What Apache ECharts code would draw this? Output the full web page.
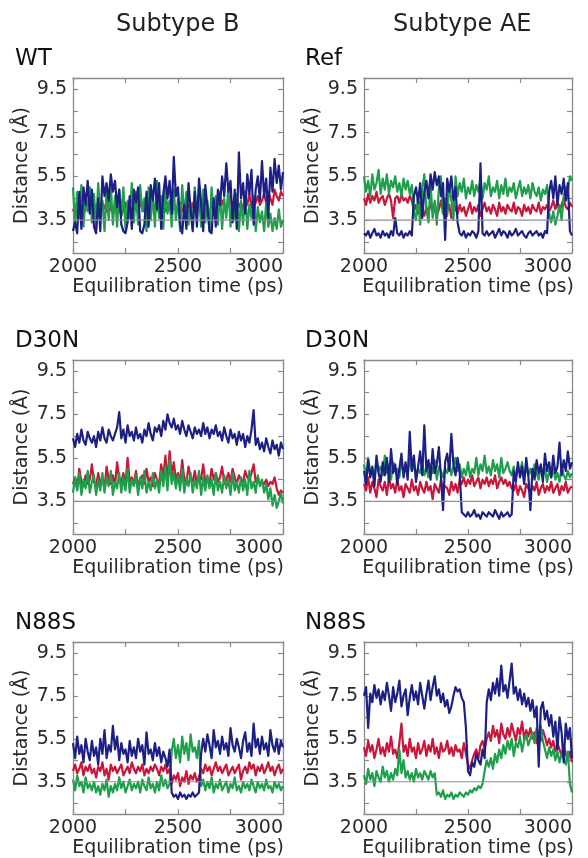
<!DOCTYPE html>
<html><head><meta charset="utf-8">
<script src="https://cdn.jsdelivr.net/npm/echarts@6/dist/echarts.min.js"></script>
<style>html,body{margin:0;padding:0;background:#fff}#c{width:588px;height:858px}</style>
</head><body><div id="c"></div>
<script>
// ---- data ----
const TIME_START = 2000, TIME_STEP = 10, TIME_END = 3000;
const xTickLabels = [2000, 2500, 3000];
const yTickLabels = [3.5, 5.5, 7.5, 9.5];
const yTickMarks = [2.5, 3.5, 4.5, 5.5, 6.5, 7.5, 8.5, 9.5];
const REF_LEVEL = 3.5;
const columnTitles = ['Subtype B', 'Subtype AE'];
const panelTitles = ['WT', 'Ref', 'D30N', 'D30N', 'N88S', 'N88S'];
const xAxisName = 'Equilibration time (ps)';
const yAxisName = 'Distance (Å)';

// Panel 1: WT (Subtype B)
const wtBlue = [3.0,3.4,2.9,4.8,3.1, 5.0,4.2,5.3,3.8,4.9, 3.2,2.9,4.5,3.0,5.5, 4.6,5.2,4.4,5.6,4.8,
 5.3,4.1,4.9,3.3,3.0, 2.9,3.4,4.6,3.1,4.9, 4.3,5.0,3.0,2.9,3.3, 4.8,3.2,5.1,4.4,5.4,
 4.0,5.2,3.1,4.7,5.5, 4.5,5.3,3.8,6.4,4.6, 5.0,3.3,2.9,4.2,3.1, 5.2,4.0,3.0,4.8,3.2,
 5.4,4.3,3.0,5.1,4.1, 3.0,2.9,4.5,3.2,4.9, 4.2,5.5,4.6,6.1,4.8, 5.3,3.4,4.9,3.1,6.6,
 4.5,5.2,3.8,5.6,4.7, 5.8,3.3,4.9,5.5,4.4, 6.2,4.6,5.4,3.6,5.9, 4.8,6.3,5.2,6.0,4.9, 5.7];
const wtRed = [3.9,4.2,3.7,4.1,4.4,3.8,4.0,4.3,3.9,4.1, 3.8,4.2,4.0,3.7,4.3,4.1,3.9,4.4,4.0,3.8,
 4.2,3.9,4.1,3.7,4.0,4.3,3.8,4.1,3.9,4.2, 4.0,3.8,4.3,4.1,3.9,4.2,3.7,4.0,4.4,3.9,
 4.1,3.8,4.2,4.0,3.9,4.3,4.1,3.8,4.2,4.0, 3.9,4.3,4.0,3.8,4.4,4.1,3.9,4.2,4.5,4.0,
 4.3,3.9,4.1,4.4,4.0,3.8,4.2,4.1,3.9,4.3, 4.0,4.4,4.1,3.9,4.3,4.6,4.0,4.2,4.5,4.1,
 4.3,4.0,4.4,4.2,4.7,4.1,4.5,4.3,4.6,4.2, 4.4,4.7,4.3,4.8,4.5,4.2,4.9,4.6,4.4,4.8, 4.6];
const wtGreen = [5.0,3.3,4.8,3.6,5.1,3.2,4.6,3.9,5.0,3.4, 4.7,3.1,5.2,3.8,4.4,3.0,4.9,3.5,5.1,3.3,
 4.6,3.2,4.9,3.7,5.0,3.1,4.4,3.6,5.2,3.4, 4.8,3.3,5.1,3.9,4.5,3.0,5.0,3.5,4.7,3.2,
 5.3,3.6,4.6,3.1,5.0,3.8,4.4,3.2,4.9,3.5, 4.5,3.0,5.1,3.7,4.8,3.3,4.3,3.1,5.0,3.6,
 4.7,3.2,4.9,3.4,4.4,3.0,5.0,3.8,4.6,3.3, 4.8,3.1,4.5,3.6,5.1,3.2,4.3,3.5,4.7,3.0,
 4.4,3.3,4.8,3.1,4.2,3.6,4.6,3.0,4.1,3.4, 3.9,3.0,4.3,3.2,3.8,3.0,3.6,3.1,4.0,3.2, 3.5];

// Panel 2: Ref (Subtype AE)
const refBlue = [2.9,2.8,3.0,2.7,2.9,3.1,2.8,2.9,2.7,3.0, 2.8,2.9,2.7,3.0,2.8,3.6,2.9,2.8,3.0,2.7,
 2.9,2.8,3.0,2.8,4.6,5.0,4.3,5.2,3.6,4.8, 5.3,4.5,5.6,4.9,5.7,5.1,5.5,4.6,5.2,2.6,
 5.4,4.8,5.5,4.4,5.0,3.4,2.9,2.8,3.0,2.7, 2.9,2.8,3.0,2.9,2.7,3.0,6.1,2.9,2.8,3.0,
 2.8,2.9,3.0,2.7,2.9,3.1,2.8,3.0,2.9,2.7, 3.0,2.8,2.9,3.1,2.8,2.9,3.0,2.8,2.7,2.9,
 3.0,2.8,2.9,3.0,2.8,2.9,2.7,3.0,2.9,4.8, 5.3,4.5,5.5,4.2,5.1,4.7,5.4,4.4,5.2,3.0, 2.8];
const refRed = [4.5,4.2,4.7,4.3,4.6,4.4,4.8,4.3,4.5,4.6, 4.2,4.5,4.7,4.4,3.6,4.5,4.6,4.3,4.7,4.4,
 4.5,4.3,4.6,4.4,3.9,4.2,3.8,4.3,4.0,3.7, 4.1,3.8,4.3,3.9,4.2,3.7,4.0,4.4,3.8,4.1,
 3.9,4.2,3.6,4.3,4.0,3.8,4.2,3.9,4.1,3.7, 4.0,4.3,3.8,4.1,3.9,4.2,3.7,4.0,4.3,3.9,
 4.1,3.8,4.2,4.0,3.7,4.3,3.9,4.1,3.8,4.2, 4.0,3.9,4.3,3.8,4.1,4.0,3.7,4.2,3.9,4.1,
 3.8,4.2,4.0,3.9,4.3,3.8,4.1,4.0,4.2,3.9, 4.1,4.4,4.0,4.3,3.9,4.2,4.5,4.1,4.0,4.3, 4.1];
const refGreen = [5.5,4.8,5.3,4.6,5.6,4.9,5.2,5.8,4.7,5.4, 4.9,5.6,4.7,5.3,5.0,5.5,4.8,5.2,4.6,5.4,
 4.9,5.3,4.7,5.1,3.9,3.5,4.6,3.3,4.9,5.6, 4.0,3.4,5.2,3.6,4.4,3.3,5.0,5.5,3.8,4.5,
 3.7,5.1,4.4,3.5,5.5,4.6,5.2,4.8,5.4,4.5, 5.0,4.7,5.3,4.6,5.1,4.8,5.4,4.5,5.2,4.9,
 5.5,4.6,5.0,4.8,5.3,4.5,5.1,4.7,5.4,4.6, 5.0,4.8,5.2,4.5,4.9,5.3,4.6,5.0,4.7,5.1,
 4.5,5.2,4.8,4.6,5.0,4.4,4.9,4.7,5.1,3.8, 3.4,3.9,3.3,3.7,4.2,3.5,4.6,5.0,4.8,5.5, 5.3];

// Panel 3: D30N (Subtype B)
const d30bBlue = [6.4,6.0,6.6,6.2,6.8,6.3,6.1,6.7,6.4,6.2, 6.5,6.0,6.7,6.3,6.9,6.4,6.2,6.8,6.5,6.3,
 6.6,6.9,7.6,6.4,6.8,6.2,7.0,6.5,6.7,6.3, 6.9,6.4,6.6,6.2,6.8,6.5,7.1,6.6,6.3,6.9,
 6.7,7.0,6.5,7.2,6.8,7.5,7.1,6.9,7.3,6.8, 7.0,6.6,7.2,6.8,6.5,7.0,6.7,6.4,6.9,6.6,
 6.8,6.5,7.1,6.6,6.9,6.4,6.8,6.6,7.0,6.5, 6.7,6.3,6.9,6.5,6.2,6.8,6.4,6.6,6.1,6.7,
 6.3,6.6,6.0,6.5,6.2,6.8,7.7,6.1,6.4,5.9, 6.2,5.8,6.4,6.0,5.7,6.3,5.9,6.1,5.6,6.2, 5.9];
const d30bRed = [4.3,4.6,4.1,5.0,4.4,4.2,4.7,4.3,4.5,5.2, 4.4,4.2,4.8,4.3,4.6,4.1,5.1,4.5,4.3,4.7,
 4.2,5.3,4.5,4.4,4.8,4.2,5.5,4.4,4.6,4.3, 4.9,4.2,4.5,4.7,4.3,5.0,4.4,4.6,4.2,4.8,
 4.5,4.3,5.2,4.6,5.6,4.4,5.8,4.7,5.3,4.5, 4.8,4.4,5.4,4.5,4.3,5.1,4.6,4.4,4.9,4.3,
 4.7,4.5,5.2,4.4,4.6,4.3,5.0,4.5,4.8,4.4, 4.6,5.1,4.3,4.5,4.8,4.4,5.0,4.6,4.3,4.7,
 4.5,4.4,4.9,4.6,4.5,4.8,5.2,4.4,4.6,4.3, 4.4,4.3,4.5,4.2,4.4,4.3,4.6,4.1,3.8,4.0, 3.9];
const d30bGreen = [3.9,4.6,4.0,4.8,3.8,4.5,4.1,4.9,3.9,4.4, 4.7,3.8,4.5,4.0,4.8,3.9,4.6,4.2,4.9,3.8,
 4.4,4.1,4.8,3.9,4.6,4.0,5.0,3.9,4.5,4.2, 4.7,3.8,4.6,4.1,4.9,3.9,4.4,4.0,4.8,4.1,
 4.5,3.9,4.9,4.2,5.1,4.0,5.4,4.3,4.8,4.1, 4.7,4.0,5.0,3.9,4.6,4.2,4.8,3.9,4.5,4.1,
 4.9,3.8,4.6,4.0,4.7,4.1,4.5,3.8,4.8,4.0, 4.4,3.9,4.7,4.1,4.5,3.8,4.8,4.0,4.4,3.9,
 4.6,4.0,4.5,3.8,4.9,4.1,4.4,3.9,4.7,4.2, 4.5,3.9,4.3,3.6,4.1,3.3,3.8,3.2,3.5,3.9, 3.4];

// Panel 4: D30N (Subtype AE)
const d30aeBlue = [4.9,4.3,5.4,4.6,5.1,4.2,5.6,4.8,4.4,5.3, 4.7,5.5,4.4,5.9,4.8,5.2,4.3,5.0,5.7,4.6,
 5.3,4.5,6.7,4.9,5.6,4.4,5.1,5.8,4.7,7.0, 4.9,5.4,4.5,5.9,4.8,5.2,6.0,4.6,3.1,5.3,
 5.7,4.9,6.6,5.2,4.7,5.5,4.8,3.0,2.9,2.8, 3.0,2.8,2.9,3.1,2.8,2.9,2.7,3.0,2.9,2.8,
 3.0,2.9,2.8,3.1,2.9,2.7,3.0,2.8,2.9,3.0, 2.8,2.9,4.9,4.4,5.3,4.6,5.1,4.3,5.5,4.7,
 3.1,5.0,4.5,5.4,4.8,5.2,4.4,5.7,4.9,5.3, 4.6,5.6,4.8,5.1,6.2,4.7,5.4,4.9,5.8,5.0, 5.3];
const d30aeRed = [4.3,4.0,4.6,3.9,4.4,4.1,3.7,4.5,4.2,4.0, 4.4,3.8,4.6,4.1,4.3,3.9,4.5,4.0,4.2,3.7,
 4.3,4.1,3.9,4.5,4.0,4.2,3.8,4.4,4.1,3.9, 4.4,4.0,4.2,3.6,4.3,4.1,3.9,4.5,4.0,4.2,
 4.1,3.8,4.4,4.0,4.3,3.9,4.5,4.3,4.6,4.2, 4.5,4.3,4.7,4.2,4.4,4.6,4.1,4.5,4.3,4.6,
 4.2,4.5,4.3,4.7,4.1,4.4,4.6,4.3,4.5,4.2, 4.4,4.1,4.0,4.3,3.8,4.2,4.0,3.7,4.3,4.1,
 3.9,4.2,4.0,4.4,3.8,4.1,4.3,3.9,4.2,4.0, 4.4,3.9,4.1,4.3,3.8,4.2,4.0,4.4,3.9,4.1, 4.2];
const d30aeGreen = [5.2,4.6,5.5,4.8,5.0,4.5,5.4,4.9,5.1,4.7, 5.6,4.8,5.2,4.5,5.3,4.9,5.0,4.6,5.4,4.8,
 5.1,4.7,5.5,4.9,5.2,4.6,5.0,4.8,5.3,4.7, 5.0,4.6,5.2,4.8,5.4,4.5,5.1,4.9,4.6,5.0,
 4.8,5.3,4.7,5.1,5.5,4.9,5.2,4.6,5.0,4.7, 5.3,4.6,5.0,4.8,5.5,4.7,5.2,4.9,5.6,4.8,
 5.1,4.7,5.4,4.9,5.2,4.6,5.5,4.8,5.0,5.3, 4.9,4.7,5.1,4.6,5.0,4.8,5.3,4.5,5.1,4.7,
 5.0,4.6,5.2,4.8,4.5,5.1,4.7,5.0,4.4,4.9, 4.6,5.0,4.5,4.8,4.4,5.1,4.7,4.5,4.9,4.6, 4.8];

// Panel 5: N88S (Subtype B)
const n88bBlue = [5.3,4.6,5.6,4.8,5.2,4.4,5.5,4.9,4.5,5.4, 4.7,5.1,4.3,5.5,4.8,5.9,4.6,5.2,4.9,6.1,
 5.0,5.6,4.5,5.3,4.8,5.0,4.4,5.4,4.7,5.1, 4.6,5.5,4.9,5.2,4.3,5.8,4.8,5.0,4.5,5.3,
 4.7,5.1,4.4,4.9,4.6,4.2,5.0,3.0,2.8,2.9, 2.7,3.0,2.8,2.9,2.7,2.9,2.8,3.0,2.8,2.9,
 3.0,4.8,5.5,4.9,5.7,5.2,4.6,5.9,5.1,5.4, 4.8,5.6,5.0,5.3,4.7,6.0,5.2,4.9,5.5,5.1,
 4.6,5.4,5.8,4.9,5.3,4.7,6.2,5.1,5.5,4.8, 5.6,5.0,5.3,4.7,5.9,5.2,4.9,5.5,4.8,5.4, 5.1];
const n88bRed = [4.0,4.3,3.9,4.1,4.4,3.8,4.2,4.0,4.3,3.9, 4.1,3.7,4.2,4.0,4.4,3.8,4.1,3.6,4.3,4.0,
 4.2,3.9,4.1,4.3,3.8,4.0,4.2,3.9,4.4,4.1, 3.9,4.2,4.0,4.3,3.8,4.1,3.9,4.2,4.0,4.3,
 4.1,3.8,4.2,4.0,4.3,3.9,4.1,3.4,3.8,3.6, 3.9,3.3,3.7,3.5,4.0,3.4,3.8,3.6,3.9,3.5,
 3.7,4.1,3.9,4.3,4.0,4.2,3.8,4.1,4.4,4.0, 4.2,3.9,4.1,4.3,3.8,4.0,4.2,3.9,4.1,4.3,
 3.6,4.0,4.2,3.9,4.4,4.1,4.3,3.8,4.2,4.0, 4.3,3.9,4.1,4.4,4.0,4.2,3.8,4.1,4.3,3.9, 4.1];
const n88bGreen = [3.6,3.1,3.8,3.3,3.5,3.0,3.7,3.2,3.4,3.1, 3.5,3.0,3.3,2.9,3.4,3.1,3.6,2.8,3.3,3.0,
 3.4,3.1,3.7,3.2,3.5,3.0,3.3,3.6,3.1,3.4, 3.2,3.5,3.0,3.6,3.3,3.1,3.7,3.2,3.4,3.0,
 3.5,3.1,3.8,3.3,3.6,3.2,3.4,4.9,5.5,4.6, 5.2,4.4,5.6,4.8,5.3,4.5,5.7,4.9,5.1,4.6,
 5.4,3.3,3.6,3.1,3.5,3.2,3.7,3.0,3.4,3.2, 3.6,3.1,3.3,3.5,3.0,3.4,3.2,3.7,3.1,3.3,
 3.0,3.5,3.2,3.4,3.1,3.6,3.3,3.0,3.5,3.2, 3.4,3.1,3.6,3.2,3.3,3.0,3.5,3.2,3.4,3.1, 3.3];

// Panel 6: N88S (Subtype AE)
const n88aeBlue = [7.5,7.9,6.0,7.6,7.2,8.0,7.4,7.8,7.1,7.7, 7.3,8.1,7.5,6.8,7.9,7.2,7.6,8.2,7.0,7.5,
 7.8,6.6,7.4,8.0,7.3,7.7,7.1,8.1,7.5,6.9, 7.6,8.2,7.3,7.9,8.4,7.5,7.8,7.2,7.6,7.0,
 7.3,6.7,7.0,7.5,7.9,7.7,7.8,7.4,7.2,6.0, 4.0,3.8,4.4,4.2,4.8,4.5,4.3,5.0,4.6,7.2,
 7.8,7.3,8.1,7.6,8.3,7.5,8.9,7.7,8.0,7.4, 8.2,9.0,7.6,7.9,7.3,7.8,7.1,7.6,7.0,7.4,
 6.8,7.3,6.5,7.0,4.2,6.9,7.2,6.4,6.8,6.1, 6.6,5.6,6.3,5.0,6.5,5.8,4.4,6.2,5.5,6.0, 4.6];
const n88aeRed = [5.1,4.7,5.4,4.9,5.2,4.6,5.0,5.5,4.8,5.1, 4.7,5.3,4.9,5.6,4.8,5.0,4.6,5.3,6.2,4.9,
 5.2,4.7,5.5,4.9,5.1,4.6,5.3,4.8,5.0,5.4, 4.7,5.2,4.9,5.5,4.8,5.1,4.6,5.3,4.9,5.0,
 5.4,4.8,5.1,4.7,5.2,4.9,5.0,4.6,5.3,4.8, 4.3,4.1,4.5,4.8,5.0,4.6,5.2,5.4,5.0,5.5,
 5.8,5.4,6.1,5.6,5.9,5.3,6.2,5.7,5.5,6.0, 5.6,6.2,5.8,5.4,6.0,5.7,6.3,5.5,5.9,5.6,
 6.0,5.5,5.8,5.3,5.7,5.4,5.9,5.6,5.2,5.5, 5.1,5.4,4.9,5.3,5.0,4.7,5.2,4.8,4.5,4.9, 4.4];
const n88aeGreen = [3.8,3.4,4.1,3.6,3.9,3.3,4.0,3.7,3.5,4.2, 3.7,4.0,3.5,3.9,3.6,4.1,3.8,5.0,3.9,4.5,
 3.7,4.0,3.6,3.9,3.5,4.1,3.7,3.9,3.6,4.0, 3.8,3.6,4.0,3.7,3.9,2.9,3.0,2.8,3.1,2.7,
 2.9,2.8,3.0,2.7,2.9,2.8,3.0,2.9,2.8,3.0, 2.9,3.1,3.0,3.2,3.1,3.3,3.2,3.4,4.0,4.5,
 4.2,4.6,4.1,4.8,4.4,5.0,4.6,5.2,4.8,5.4, 5.0,5.5,4.7,5.3,5.1,5.6,4.9,5.4,5.7,5.2,
 5.5,5.8,5.3,6.0,5.6,6.1,5.4,5.0,4.6,5.1, 4.7,5.0,4.5,4.9,4.4,4.8,4.6,4.3,4.9,3.4, 3.0];

const panels = [
  {red: wtRed,    green: wtGreen,    blue: wtBlue},
  {red: refRed,   green: refGreen,   blue: refBlue},
  {red: d30bRed,  green: d30bGreen,  blue: d30bBlue},
  {red: d30aeRed, green: d30aeGreen, blue: d30aeBlue},
  {red: n88bRed,  green: n88bGreen,  blue: n88bBlue},
  {red: n88aeRed, green: n88aeGreen, blue: n88aeBlue}
];

// ---- layout / style ----
const COLORS = {blue: '#1c2085', red: '#c8173a', green: '#1f9e4c', ref: '#8e8e8e'};
const FONT = '"DejaVu Sans", sans-serif';
const colLeft = [73, 364], colWidth = [210, 208];
const rowTop = [78, 360, 642], rowHeight = [175, 174, 172];
const frameColor = '#8a8a8a', textColor = '#2a2a2a';

function toPairs(arr) { return arr.map((v, i) => [TIME_START + i * TIME_STEP, v]); }

const grids = [], xAxes = [], yAxes = [], series = [], graphics = [];
panels.forEach((p, k) => {
  const col = k % 2, row = Math.floor(k / 2);
  grids.push({left: colLeft[col], top: rowTop[row], width: colWidth[col], height: rowHeight[row],
    outerBoundsMode: 'none', containLabel: false, show: false});
  const axLine = {show: true, lineStyle: {color: frameColor, width: 1.3}};
  const xBase = {type: 'value', gridIndex: k, min: TIME_START, max: TIME_END, interval: 250,
    splitLine: {show: false}, axisLine: axLine,
    axisTick: {show: true, inside: true, length: 5, lineStyle: {color: frameColor, width: 1.2}}};
  xAxes.push(Object.assign({}, xBase, {position: 'bottom',
    name: xAxisName, nameLocation: 'middle', nameGap: 24,
    nameTextStyle: {fontFamily: FONT, fontSize: 19, color: textColor},
    axisLabel: {show: true, margin: 5, fontFamily: FONT, fontSize: 19, color: textColor,
      alignMinLabel: 'center', alignMaxLabel: 'right',
      formatter: v => xTickLabels.includes(v) ? String(v) : ''}}));
  xAxes.push(Object.assign({}, xBase, {position: 'top', axisLabel: {show: false}}));
  const yBase = {type: 'value', gridIndex: k, min: 2, max: 10,
    splitLine: {show: false}, axisLine: axLine,
    axisTick: {show: true, inside: true, length: 5, customValues: yTickMarks,
      lineStyle: {color: frameColor, width: 1.2}}};
  yAxes.push(Object.assign({}, yBase, {position: 'left',
    name: yAxisName, nameLocation: 'middle', nameGap: 41, nameRotate: 90,
    nameTextStyle: {fontFamily: FONT, fontSize: 19, color: textColor},
    axisLabel: {show: true, margin: 6, fontFamily: FONT, fontSize: 19, color: textColor,
      customValues: yTickLabels, formatter: v => Number(v).toFixed(1)}}));
  yAxes.push(Object.assign({}, yBase, {position: 'right', axisLabel: {show: false}}));
  ['red', 'green', 'blue'].forEach((c, j) => {
    series.push({type: 'line', xAxisIndex: 2 * k, yAxisIndex: 2 * k, data: toPairs(p[c]),
      showSymbol: false, symbol: 'none', silent: true, z: 2 + j,
      lineStyle: {color: COLORS[c], width: 2.2, join: 'round'}, itemStyle: {color: COLORS[c]}});
  });
  series.push({type: 'line', xAxisIndex: 2 * k, yAxisIndex: 2 * k,
    data: [[TIME_START, REF_LEVEL], [TIME_END, REF_LEVEL]], showSymbol: false, symbol: 'none',
    silent: true, z: 6, lineStyle: {color: COLORS.ref, width: 1.2}});
  graphics.push({type: 'text', left: [15, 305][col], top: rowTop[row] - 30,
    style: {text: panelTitles[k], font: '23px ' + FONT, fill: '#111'}});
});
graphics.push({type: 'text', left: 116, top: 13, style: {text: columnTitles[0], font: '24px ' + FONT, fill: '#222'}});
graphics.push({type: 'text', left: 393, top: 13, style: {text: columnTitles[1], font: '24px ' + FONT, fill: '#222'}});

const chart = echarts.init(document.getElementById('c'), null, {renderer: 'canvas'});
chart.setOption({
  animation: false, backgroundColor: '#fff',
  grid: grids, xAxis: xAxes, yAxis: yAxes, series: series, graphic: graphics
});
</script></body></html>
